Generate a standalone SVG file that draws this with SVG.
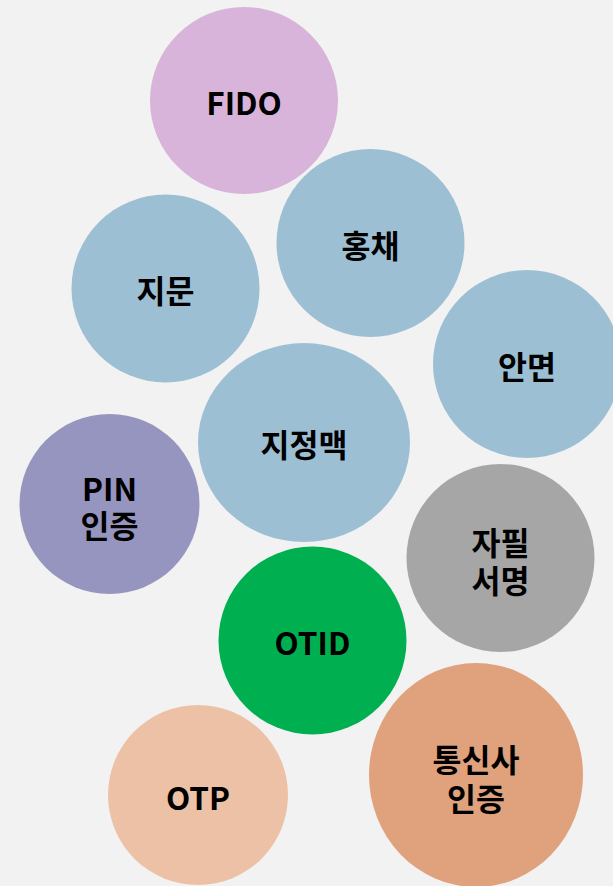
<svg xmlns="http://www.w3.org/2000/svg" width="613" height="886" viewBox="0 0 613 886">
<style>
.t{font-family:"Noto Sans CJK KR","Noto Sans",sans-serif;font-weight:bold;font-size:31.5px;fill:#000;text-anchor:middle;dominant-baseline:central}
.blue{fill:#9DBFD4}
</style>
<rect width="613" height="886" fill="#F2F2F2"/>
<g id="connectors"></g>
<g id="fido"><ellipse cx="244" cy="100.5" rx="94" ry="93.5" fill="#D9B4DA"/><text class="t" x="244" y="101">FIDO</text></g>
<g id="hongchae"><circle class="blue" cx="370.5" cy="243" r="94"/><text class="t" x="370.5" y="244">홍채</text></g>
<g id="jimun"><circle class="blue" cx="165.5" cy="288.5" r="94"/><text class="t" x="165.5" y="289">지문</text></g>
<g id="anmyeon"><circle class="blue" cx="527" cy="364" r="94"/><text class="t" x="527" y="365">안면</text></g>
<g id="jijeongmaek"><ellipse class="blue" cx="304" cy="442.5" rx="106" ry="99.5"/><text class="t" x="304" y="443">지정맥</text></g>
<g id="pin"><circle cx="109.5" cy="504" r="90" fill="#9595BF"/><text class="t" x="109.5" y="487"><tspan x="109.5" y="487">PIN</tspan><tspan x="109.5" y="524">인증</tspan></text></g>
<g id="japil"><circle cx="500.5" cy="558" r="94" fill="#A6A6A6"/><text class="t"><tspan x="500.5" y="541">자필</tspan><tspan x="500.5" y="579">서명</tspan></text></g>
<g id="otid"><circle cx="312.5" cy="640.5" r="94" fill="#00B050"/><text class="t" x="312.5" y="641">OTID</text></g>
<g id="otp"><circle cx="198" cy="795" r="90" fill="#EDC1A6"/><text class="t" x="198" y="796">OTP</text></g>
<g id="telecom"><ellipse cx="476" cy="775" rx="107" ry="112" fill="#E0A17D"/><text class="t"><tspan x="476" y="758">통신사</tspan><tspan x="476" y="797">인증</tspan></text></g>
</svg>
